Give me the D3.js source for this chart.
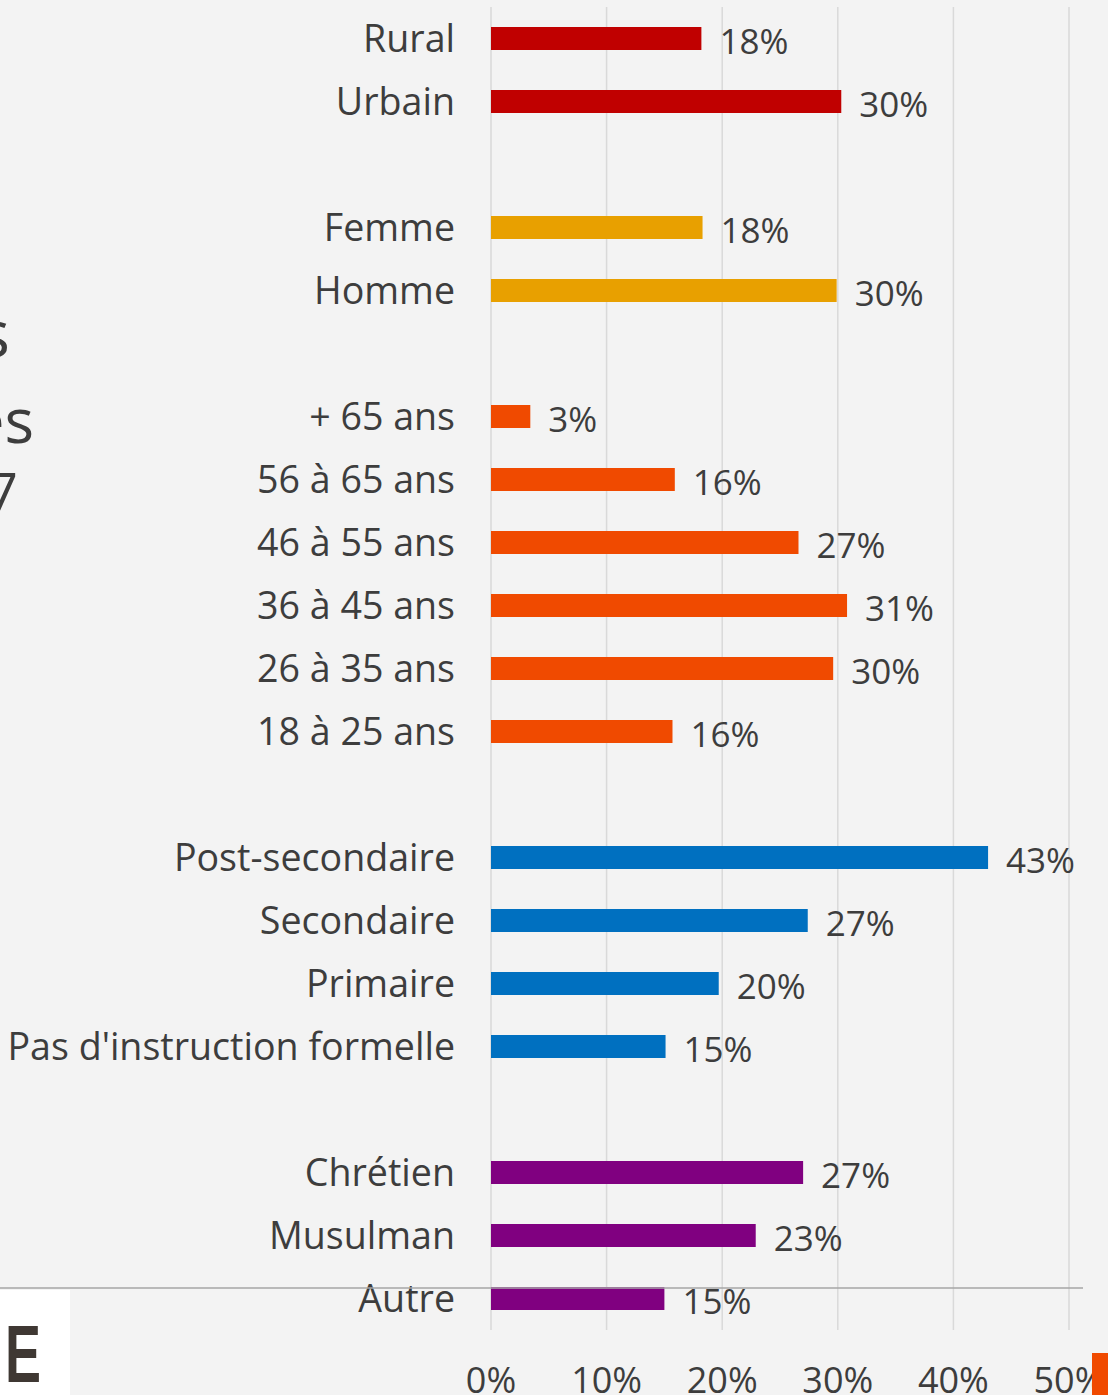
<!DOCTYPE html>
<html>
<head>
<meta charset="utf-8">
<script src="https://cdn.jsdelivr.net/npm/d3@7"></script>
<style>
  html, body { margin: 0; padding: 0; background: #f3f3f3; }
  svg { display: block; }
</style>
</head>
<body>
<div id="chart"></div>
<script>
// categories from top to bottom, empty strings are the gaps between groups
const categories = [
  "Rural", "Urbain", "",
  "Femme", "Homme", "",
  "+ 65 ans", "56 à 65 ans", "46 à 55 ans", "36 à 45 ans", "26 à 35 ans", "18 à 25 ans", "",
  "Post-secondaire", "Secondaire", "Primaire", "Pas d'instruction formelle", "",
  "Chrétien", "Musulman", "Autre"
];
// bar lengths in % (labels show them rounded)
const values = [
  18.2, 30.3, null,
  18.3, 29.9, null,
  3.4, 15.9, 26.6, 30.8, 29.6, 15.7, null,
  43.0, 27.4, 19.7, 15.1, null,
  27.0, 22.9, 15.0
];
const groups = [
  "milieu", "milieu", null,
  "sexe", "sexe", null,
  "age", "age", "age", "age", "age", "age", null,
  "instruction", "instruction", "instruction", "instruction", null,
  "religion", "religion", "religion"
];
const groupColors = {
  milieu: "#c00000",
  sexe: "#e8a000",
  age: "#f04a00",
  instruction: "#0070c0",
  religion: "#800080"
};
const ticks = [0, 10, 20, 30, 40, 50];

const W = 1108, H = 1395;
const font = "'Open Sans', sans-serif";
const textColor = "#3d3d3d";

const svg = d3.select("#chart").append("svg")
  .attr("width", W)
  .attr("height", H);

svg.append("rect")
  .attr("width", W)
  .attr("height", H)
  .attr("fill", "#f3f3f3");

// rows: one slot per category (gaps included)
const keys = categories.map((c, i) => i);
const data = categories.map((c, i) => ({ key: i, label: c, value: values[i], group: groups[i] }))
  .filter(d => d.value !== null);

const x = d3.scaleLinear()
  .domain([0, 50])
  .range([491, 1069]);

const y = d3.scaleBand()
  .domain(keys)
  .range([7, 1330])
  .paddingInner(0.635)
  .paddingOuter(0.3175);

// vertical gridlines
svg.append("g")
  .selectAll("line")
  .data(ticks)
  .join("line")
  .attr("x1", d => x(d))
  .attr("x2", d => x(d))
  .attr("y1", y.range()[0])
  .attr("y2", y.range()[1])
  .attr("stroke", "#d9d9d9")
  .attr("stroke-width", 1.5);

// bottom tick labels
svg.append("g")
  .selectAll("text")
  .data(ticks)
  .join("text")
  .attr("x", d => x(d))
  .attr("y", 1393)
  .attr("text-anchor", "middle")
  .attr("font-family", font)
  .attr("font-size", 36)
  .attr("fill", textColor)
  .text(d => d + "%");

// bars
svg.append("g")
  .selectAll("rect")
  .data(data)
  .join("rect")
  .attr("x", x(0))
  .attr("y", d => y(d.key))
  .attr("width", d => x(d.value) - x(0))
  .attr("height", y.bandwidth())
  .attr("fill", d => groupColors[d.group]);

// category labels
svg.append("g")
  .selectAll("text")
  .data(data)
  .join("text")
  .attr("x", 455)
  .attr("y", d => y(d.key) + y.bandwidth() / 2 + 13)
  .attr("text-anchor", "end")
  .attr("font-family", font)
  .attr("font-size", 37.6)
  .attr("fill", textColor)
  .text(d => d.label);

// value labels
svg.append("g")
  .selectAll("text")
  .data(data)
  .join("text")
  .attr("x", d => x(d.value) + 18)
  .attr("y", d => y(d.key) + y.bandwidth() / 2 + 15)
  .attr("font-family", font)
  .attr("font-size", 35)
  .attr("fill", textColor)
  .text(d => Math.round(d.value) + "%");

// slide pieces around the chart
svg.append("line")
  .attr("x1", 0).attr("x2", 1083)
  .attr("y1", 1288).attr("y2", 1288)
  .attr("stroke", "#a6a6a6")
  .attr("stroke-width", 1.5);

// title cut off on the left
svg.append("text")
  .attr("x", 10).attr("y", 357)
  .attr("text-anchor", "end")
  .attr("font-family", font)
  .attr("font-size", 66)
  .attr("fill", textColor)
  .text("s");
svg.append("text")
  .attr("x", 34).attr("y", 443)
  .attr("text-anchor", "end")
  .attr("font-family", font)
  .attr("font-size", 62)
  .attr("fill", textColor)
  .text("es");
svg.append("text")
  .attr("x", 18).attr("y", 512)
  .attr("text-anchor", "end")
  .attr("font-family", font)
  .attr("font-size", 54)
  .attr("fill", textColor)
  .text("7");

// white logo box bottom left
svg.append("rect")
  .attr("x", 0).attr("y", 1290)
  .attr("width", 70).attr("height", 105)
  .attr("fill", "#ffffff");
svg.append("text")
  .attr("x", 5).attr("y", 1382)
  .attr("font-family", "'Liberation Sans', sans-serif")
  .attr("font-weight", "bold")
  .attr("font-size", 82)
  .attr("textLength", 36)
  .attr("lengthAdjust", "spacingAndGlyphs")
  .attr("fill", "#3f3833")
  .text("E");

// orange corner mark
svg.append("rect")
  .attr("x", 1092).attr("y", 1353)
  .attr("width", 16).attr("height", 42)
  .attr("fill", "#f04a00");
</script>
</body>
</html>
